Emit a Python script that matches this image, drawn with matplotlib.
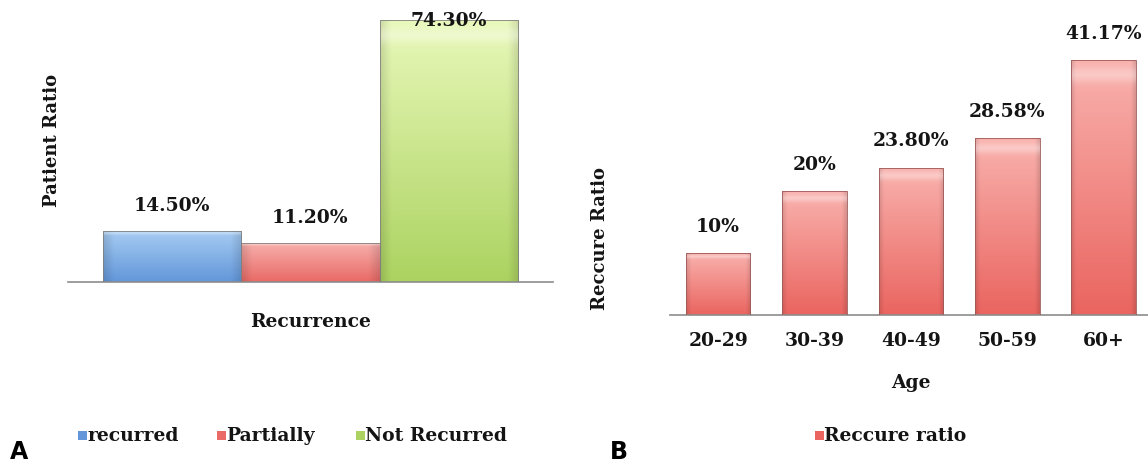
import numpy as np
import matplotlib.pyplot as plt
from matplotlib.colors import to_rgb

# panel A: recurrence split
rec_labels = ['recurred', 'Partially', 'Not Recurred']
rec_values = [14.5, 11.2, 74.3]
rec_text = ['14.50%', '11.20%', '74.30%']
rec_colors = [('#a6ccf2', '#6397da'), ('#f7b0ad', '#e96a66'), ('#e8f8b9', '#acd361')]

# panel B: recurrence ratio by age group
age_groups = ['20-29', '30-39', '40-49', '50-59', '60+']
age_values = [10, 20, 23.8, 28.58, 41.17]
age_text = ['10%', '20%', '23.80%', '28.58%', '41.17%']
age_color = ('#f9b1ad', '#ea6560')

FONT = 'DejaVu Serif'
INK = '#141414'
plt.rcParams['font.family'] = FONT


def shade(top, bottom, n=60):
    """vertical gradient with darker side edges, like office-style bevel bars"""
    t = np.linspace(0, 1, n)[:, None, None]
    img = (1 - t) * np.array(to_rgb(top)) + t * np.array(to_rgb(bottom))
    x = np.linspace(-1, 1, n)[None, :, None]
    edge = 1 - 0.12 * np.clip((np.abs(x) - 0.85) / 0.15, 0, 1)
    img = img * edge
    # bright rim just below the top
    rim = np.exp(-((np.linspace(0, 1, n) - 0.05) / 0.03) ** 2)[:, None, None]
    img = img + (1 - img) * 0.35 * rim
    return np.clip(img, 0, 1)


def gradient_bars(ax, bars, colors):
    for bar, (top, bottom) in zip(bars, colors):
        x0, y0 = bar.get_x(), bar.get_y()
        w, h = bar.get_width(), bar.get_height()
        bar.set_facecolor('none')
        im = ax.imshow(shade(top, bottom), extent=(x0, x0 + w, y0, y0 + h),
                       aspect='auto', origin='upper', zorder=2,
                       interpolation='bilinear')
        im.set_clip_path(bar)


def style_axes(ax):
    for side in ['top', 'right', 'left']:
        ax.spines[side].set_visible(False)
    ax.spines['bottom'].set_color('#8c8c8c')
    ax.spines['bottom'].set_linewidth(1.2)
    ax.set_yticks([])


fig = plt.figure(figsize=(11.48, 4.65), dpi=100)
W, H = 1148, 465

# ---- A ----
axA = fig.add_axes([68 / W, 1 - 282 / H, (553 - 68) / W, 282 / H])
xa = np.arange(len(rec_values))
barsA = axA.bar(xa, rec_values, width=1.0, edgecolor='#7f7f7f', linewidth=0.6, zorder=3)
gradient_bars(axA, barsA, rec_colors)
axA.set_xlim(-0.75, 2.75)
axA.set_ylim(0, 80)
axA.set_xticks([])
style_axes(axA)
for x, v, s in zip(xa, rec_values, rec_text):
    off = 18 if v < 70 else -1
    axA.annotate(s, (x, v), xytext=(0, off), textcoords='offset points',
                 ha='center', va='center', fontsize=13.5, fontweight='bold',
                 color=INK, annotation_clip=False, zorder=5)
fig.text(52 / W, 1 - 140 / H, 'Patient Ratio', rotation=90, ha='center', va='center',
         fontsize=13, fontweight='bold', color=INK)
fig.text(311 / W, 1 - 322 / H, 'Recurrence', ha='center', va='center',
         fontsize=13.5, fontweight='bold', color=INK)

# legend A
leg_x = [78, 217, 356]
for lx, name, (top, bottom) in zip(leg_x, rec_labels, rec_colors):
    fig.patches.append(plt.Rectangle((lx / W, 1 - 440 / H), 9 / W, 9 / H,
                                     transform=fig.transFigure,
                                     facecolor=bottom, edgecolor='none'))
    fig.text((lx + 9) / W, 1 - 436 / H, name, ha='left', va='center',
             fontsize=13.5, fontweight='bold', color=INK)
fig.text(10 / W, 1 - 452 / H, 'A', ha='left', va='center', fontsize=17,
         fontweight='bold', family='DejaVu Sans')

# ---- B ----
axB = fig.add_axes([670 / W, 1 - 315 / H, (1148 - 670) / W, 315 / H])
xb = np.arange(len(age_values))
barsB = axB.bar(xb, age_values, width=0.67, edgecolor='#9a5a58', linewidth=0.6, zorder=3)
gradient_bars(axB, barsB, [age_color] * len(age_values))
axB.set_xlim(-0.5, 4.46)
axB.set_ylim(0, 315 / 6.19)
style_axes(axB)
axB.set_xticks(xb)
axB.set_xticklabels(age_groups, fontsize=13.5, fontweight='bold', color=INK)
axB.tick_params(axis='x', length=0, pad=12)
for x, v, s in zip(xb, age_values, age_text):
    axB.annotate(s, (x, v), xytext=(0, 19), textcoords='offset points',
                 ha='center', va='center', fontsize=13.5, fontweight='bold',
                 color=INK, annotation_clip=False, zorder=5)
fig.text(600 / W, 1 - 238 / H, 'Reccure Ratio', rotation=90, ha='center', va='center',
         fontsize=13, fontweight='bold', color=INK)
fig.text(911 / W, 1 - 383 / H, 'Age', ha='center', va='center',
         fontsize=13.5, fontweight='bold', color=INK)
fig.patches.append(plt.Rectangle((815 / W, 1 - 440 / H), 9 / W, 9 / H,
                                 transform=fig.transFigure,
                                 facecolor=age_color[1], edgecolor='none'))
fig.text(824 / W, 1 - 436 / H, 'Reccure ratio', ha='left', va='center',
         fontsize=13.5, fontweight='bold', color=INK)
fig.text(610 / W, 1 - 452 / H, 'B', ha='left', va='center', fontsize=17,
         fontweight='bold', family='DejaVu Sans')

fig.savefig('out.png', dpi=100)
